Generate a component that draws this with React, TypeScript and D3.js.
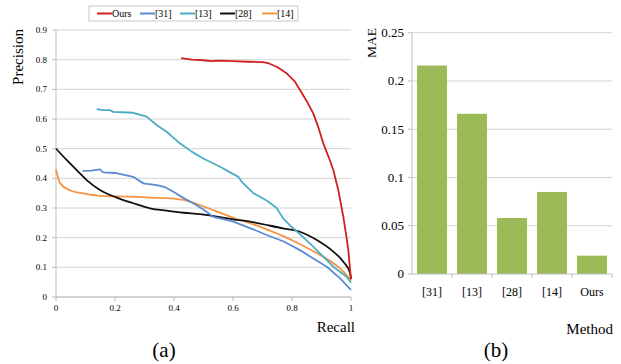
import React from 'react';
import * as d3 from 'd3';

// PR curves, [recall, precision]
const ours = [[0.424,0.805],[0.46,0.80],[0.5,0.798],[0.525,0.795],[0.55,0.797],[0.6,0.795],[0.65,0.793],[0.7,0.792],[0.72,0.788],[0.748,0.776],[0.782,0.754],[0.81,0.726],[0.827,0.698],[0.85,0.66],[0.872,0.619],[0.89,0.57],[0.906,0.518],[0.925,0.47],[0.94,0.428],[0.957,0.36],[0.974,0.27],[0.985,0.2],[0.991,0.158],[0.997,0.09],[1.0,0.06]];
const ref31 = [[0.09,0.425],[0.12,0.426],[0.149,0.43],[0.16,0.42],[0.2,0.418],[0.262,0.405],[0.296,0.383],[0.341,0.377],[0.37,0.37],[0.398,0.355],[0.43,0.335],[0.465,0.316],[0.5,0.295],[0.533,0.27],[0.57,0.262],[0.601,0.254],[0.669,0.228],[0.714,0.209],[0.77,0.188],[0.827,0.158],[0.872,0.13],[0.918,0.102],[0.963,0.063],[1.0,0.024]];
const ref13 = [[0.138,0.633],[0.16,0.63],[0.183,0.63],[0.194,0.624],[0.262,0.621],[0.307,0.608],[0.341,0.58],[0.375,0.557],[0.42,0.518],[0.46,0.49],[0.499,0.467],[0.556,0.439],[0.6,0.415],[0.618,0.405],[0.629,0.389],[0.669,0.35],[0.714,0.325],[0.748,0.30],[0.77,0.265],[0.8,0.235],[0.827,0.212],[0.872,0.17],[0.906,0.136],[0.94,0.102],[0.985,0.068],[1.0,0.048]];
const ref28 = [[0,0.5],[0.036,0.462],[0.07,0.428],[0.104,0.394],[0.149,0.361],[0.206,0.335],[0.262,0.316],[0.319,0.299],[0.375,0.291],[0.432,0.284],[0.488,0.279],[0.6,0.262],[0.658,0.254],[0.77,0.231],[0.827,0.22],[0.884,0.192],[0.94,0.153],[0.974,0.119],[0.997,0.08],[1.0,0.06]];
const ref14 = [[0,0.43],[0.014,0.383],[0.047,0.36],[0.093,0.349],[0.149,0.341],[0.262,0.338],[0.319,0.335],[0.375,0.333],[0.432,0.327],[0.488,0.31],[0.533,0.293],[0.601,0.267],[0.669,0.245],[0.714,0.228],[0.77,0.205],[0.827,0.178],[0.884,0.148],[0.94,0.114],[0.975,0.085],[1.0,0.055]];

const seriesNames = ['Ours', '[31]', '[13]', '[28]', '[14]'];
const seriesColors = ['#d01f1f', '#5b8bd0', '#4bacc6', '#111111', '#f29645'];
const precisionTicks = [0, 0.1, 0.2, 0.3, 0.4, 0.5, 0.6, 0.7, 0.8, 0.9];
const recallTicks = [0, 0.2, 0.4, 0.6, 0.8, 1];

// MAE bars
const methods = ['[31]', '[13]', '[28]', '[14]', 'Ours'];
const maeValues = [0.216, 0.166, 0.058, 0.085, 0.019];
const maeTicks = [0, 0.05, 0.1, 0.15, 0.2, 0.25];
const maeTickLabels = ['0', '0.05', '0.1', '0.15', '0.2', '0.25'];

const font = "'Liberation Serif', 'Times New Roman', 'DejaVu Serif', serif";

const App = () => {
  const x = d3.scaleLinear().domain([0, 1]).range([56, 351]);
  const y = d3.scaleLinear().domain([0, 0.9]).range([297, 30]);
  const curves = [ours, ref31, ref13, ref28, ref14];
  const smooth = [false, false, false, true, true];

  const bx = d3.scaleBand().domain(methods).range([412, 612]).paddingInner(0.25).paddingOuter(0.125);
  const by = d3.scaleLinear().domain([0, 0.25]).range([274, 32.7]);

  const legendX = [97, 140, 180, 220, 262];

  return (
    <svg width={621} height={364} style={{ position: 'absolute', left: 0, top: 0, background: '#fff', fontFamily: font }}>
      {/* left: precision-recall */}
      {precisionTicks.map(t => (
        <g key={t}>
          <line x1={x(0)} x2={x(1)} y1={y(t)} y2={y(t)} stroke="#d4d4d4" strokeWidth={1} />
          <line x1={x(0) - 4} x2={x(0)} y1={y(t)} y2={y(t)} stroke="#bdbdbd" />
          <text x={47} y={y(t)} dy="0.33em" textAnchor="end" fontSize={9}>{t === 0 ? '0' : t.toFixed(1)}</text>
        </g>
      ))}
      <line x1={x(0)} x2={x(0)} y1={y(0.9)} y2={y(0)} stroke="#bdbdbd" />
      <line x1={x(0)} x2={x(1)} y1={y(0)} y2={y(0)} stroke="#bdbdbd" />
      {recallTicks.map(t => (
        <g key={t}>
          <line x1={x(t)} x2={x(t)} y1={y(0)} y2={y(0) + 4} stroke="#bdbdbd" />
          <text x={x(t)} y={311} textAnchor="middle" fontSize={9}>{t === 0 || t === 1 ? String(t) : t.toFixed(1)}</text>
        </g>
      ))}
      {curves.map((c, i) => {
        const line = d3.line<number[]>().x(d => x(d[0])).y(d => y(d[1]))
          .curve(smooth[i] ? d3.curveMonotoneX : d3.curveLinear);
        return <path key={i} d={line(c) || ''} fill="none" stroke={seriesColors[i]} strokeWidth={1.8} strokeLinejoin="round" />;
      }).reverse()}
      <text transform="translate(23,57) rotate(-90)" textAnchor="middle" fontSize={15}>Precision</text>
      <text x={355} y={332} textAnchor="end" fontSize={15}>Recall</text>
      <text x={164} y={357} textAnchor="middle" fontSize={21}>(a)</text>

      {/* legend */}
      <rect x={89} y={6} width={209} height={15} fill="#fff" stroke="#c8c8c8" />
      {seriesNames.map((n, i) => (
        <g key={n}>
          <line x1={legendX[i]} x2={legendX[i] + 15} y1={13.5} y2={13.5} stroke={seriesColors[i]} strokeWidth={2} />
          <text x={legendX[i] + 15} y={13.5} dy="0.33em" fontSize={10}>{n}</text>
        </g>
      ))}

      {/* right: MAE */}
      {maeTicks.map((t, i) => (
        <g key={t}>
          {i > 0 && <line x1={412} x2={612} y1={by(t)} y2={by(t)} stroke="#d4d4d4" />}
          <line x1={408} x2={412} y1={by(t)} y2={by(t)} stroke="#bdbdbd" />
          <text x={404} y={by(t)} dy="0.33em" textAnchor="end" fontSize={13}>{maeTickLabels[i]}</text>
        </g>
      ))}
      <line x1={412} x2={412} y1={by(0.25)} y2={by(0)} stroke="#bdbdbd" />
      {methods.map((m, i) => (
        <rect key={m} x={bx(m)} y={by(maeValues[i])} width={bx.bandwidth()} height={by(0) - by(maeValues[i])} fill="#9bbb59" />
      ))}
      <line x1={412} x2={612} y1={by(0)} y2={by(0)} stroke="#bdbdbd" />
      {methods.map((m, i) => (
        <g key={m}>
          <line x1={412 + bx.step() * (i + 1)} x2={412 + bx.step() * (i + 1)} y1={by(0)} y2={by(0) + 4} stroke="#bdbdbd" />
          <text x={(bx(m) || 0) + bx.bandwidth() / 2} y={296} textAnchor="middle" fontSize={12}>{m}</text>
        </g>
      ))}
      <text transform="translate(376,43) rotate(-90)" textAnchor="middle" fontSize={13.5}>MAE</text>
      <text x={613} y={334} textAnchor="end" fontSize={15}>Method</text>
      <text x={496} y={357} textAnchor="middle" fontSize={21}>(b)</text>
    </svg>
  );
};

export default App;
